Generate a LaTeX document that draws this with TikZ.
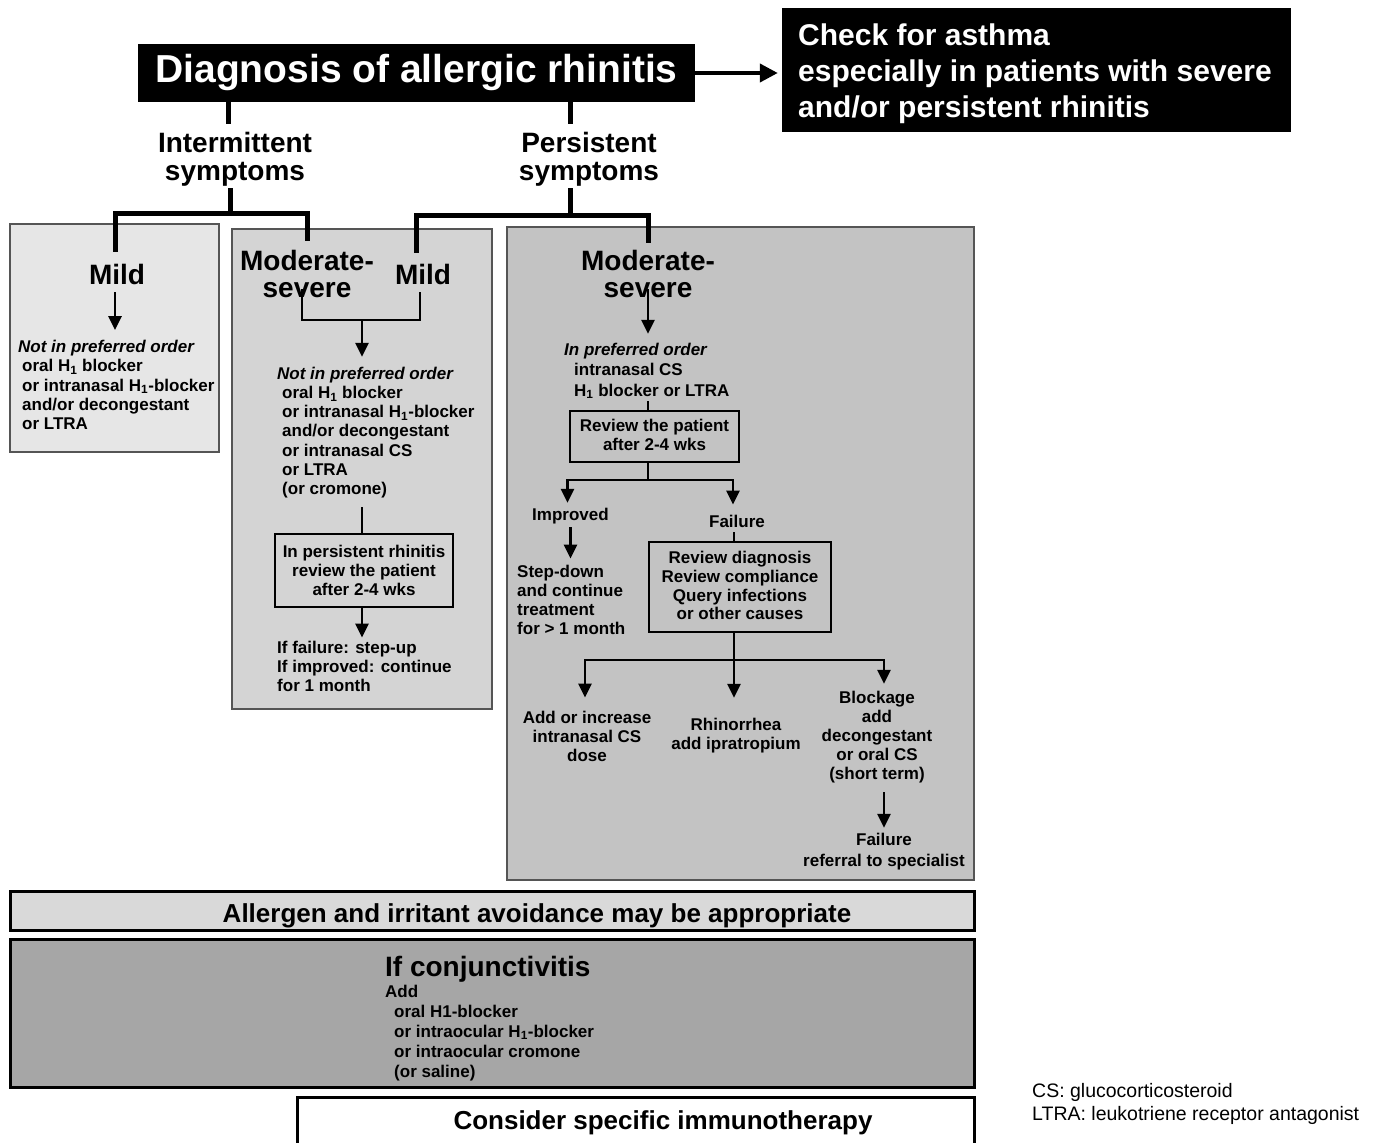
\documentclass[tikz,border=0pt]{standalone}
\usepackage{fontspec}
\setmainfont{Liberation Sans}
\usetikzlibrary{arrows.meta}
\definecolor{gA}{HTML}{E6E6E6}
\definecolor{gB}{HTML}{D4D4D4}
\definecolor{gC}{HTML}{C3C3C3}
\definecolor{gD}{HTML}{D9D9D9}
\definecolor{gE}{HTML}{A6A6A6}
\definecolor{edge}{HTML}{555555}
\begin{document}
\begin{tikzpicture}[x=1pt,y=-1pt,
  lbl/.style={font={\fontsize{28}{27}\selectfont\bfseries}, align=center, inner sep=0pt},
  body/.style={font={\fontsize{17}{19.2}\selectfont\bfseries}, inner sep=0pt},
  bodyb/.style={font={\fontsize{17}{19}\selectfont\bfseries}, inner sep=0pt},
  bigtxt/.style={font={\fontsize{26}{26}\selectfont\bfseries}, inner sep=0pt},
  bgbox/.style={draw=edge, line width=1.3pt, inner sep=0pt},
  inbox/.style={draw=black, line width=2pt, inner sep=0pt, align=center, font={\fontsize{17}{19}\selectfont\bfseries}},
  bar/.style={draw=black, line width=3pt, inner sep=0pt},
  thk/.style={line width=5pt},
  conn/.style={line width=2.8pt},
  arr/.style={conn, -{Triangle[length=14pt,width=13pt]}},
  bigarr/.style={line width=4pt, -{Triangle[length=18pt,width=18pt]}},
]
\fill[white] (0,0) rectangle (1377,1143);
\useasboundingbox (0,0) rectangle (1377,1143);

% background panels
\node[bgbox, fill=gA, minimum width=209pt, minimum height=228pt] (bg1) at (114.5,338) {};
\node[bgbox, fill=gB, minimum width=260pt, minimum height=480pt] (bg2) at (362,469) {};
\node[bgbox, fill=gC, minimum width=467pt, minimum height=653pt] (bg3) at (740.5,553.5) {};

% title and asthma box
\node[fill=black, text=white, minimum width=557pt, minimum height=58pt, inner sep=0pt,
      font={\fontsize{39}{39}\selectfont\bfseries}] (title) at (416.5,73) {\raisebox{-2pt}{Diagnosis of allergic rhinitis}};
\node[fill=black, minimum width=509pt, minimum height=124pt, inner sep=0pt] (asthma) at (1036.5,70) {};
\node[anchor=west, align=left, text=white, inner sep=0pt,
      font={\fontsize{30}{36}\selectfont\bfseries}] (asthmatxt) at (798,74)
  {Check for asthma\\especially in patients with severe\\and/or persistent rhinitis};
\draw[bigarr, shorten >=4pt] (title.east) -- (title.east -| asthma.west);

% symptom labels
\node[lbl, font={\fontsize{28}{28}\selectfont\bfseries}] (int) at (235,159) {Intermittent\\symptoms};
\node[lbl, font={\fontsize{28}{28}\selectfont\bfseries}] (per) at (589,159) {Persistent\\symptoms};
\coordinate (xa) at (228,0);
\coordinate (xb) at (570,0);
\coordinate (ib) at (230,213);
\coordinate (pb) at (570,215);
\draw[thk, shorten >=8pt] (title.south -| xa) -- (int.north -| xa);
\draw[thk, shorten >=8pt] (title.south -| xb) -- (per.north -| xb);

% severity labels
\node[lbl] (mild1) at (117,274) {Mild};
\node[lbl] (mod2) at (307,273.5) {Moderate-\\severe};
\node[lbl] (mild2) at (423,274) {Mild};
\node[lbl] (mod3) at (648,273.5) {Moderate-\\severe};

\draw[thk, shorten <=2pt] (int.south -| ib) -- (ib);
\draw[thk, shorten <=12pt, shorten >=9pt] ([xshift=-2pt]mild1.north) |- (ib) -| (mod2.north);
\draw[thk, shorten <=2pt] (per.south -| pb) -- (pb);
\draw[thk, shorten <=11pt, shorten >=7pt] ([xshift=-7pt]mild2.north) |- (pb) -| (mod3.north);

% box 1
\node[body, anchor=west, align=left] (txt1) at (18,385)
  {\textit{Not in preferred order}\\\hspace*{4pt}oral H\textsubscript{1} blocker\\\hspace*{4pt}or intranasal H\textsubscript{1}-blocker\\\hspace*{4pt}and/or decongestant\\\hspace*{4pt}or LTRA};
\draw[arr, shorten <=8pt, shorten >=10pt] ([xshift=-2pt]mild1.south) -- ([xshift=-2pt]mild1.south |- txt1.north);

% box 2
\coordinate (j2) at (362,320);
\node[body, anchor=west, align=left] (txt2) at (277,432.5)
  {\textit{Not in preferred order}\\\hspace*{5pt}oral H\textsubscript{1} blocker\\\hspace*{5pt}or intranasal H\textsubscript{1}-blocker\\\hspace*{5pt}and/or decongestant\\\hspace*{5pt}or intranasal CS\\\hspace*{5pt}or LTRA\\\hspace*{5pt}(or cromone)};
\node[inbox, minimum width=178pt, minimum height=73pt] (rev2) at (364,570.5)
  {In persistent rhinitis\\review the patient\\after 2-4 wks};
\node[bodyb, anchor=west, align=left] (ifail) at (277,666)
  {If failure: step-up\\If improved: continue\\for 1 month};
\draw[conn, shorten <=-8pt, shorten >=8pt] ([xshift=-5pt]mod2.south) |- (j2) -| ([xshift=-3pt]mild2.south);
\draw[arr, shorten >=10pt] (j2) -- (j2 |- txt2.north);
\draw[conn, shorten <=9pt] (j2 |- txt2.south) -- (j2 |- rev2.north);
\draw[arr, shorten >=3pt] (j2 |- rev2.south) -- (j2 |- ifail.north);

% box 3
\coordinate (x3) at (648,0);
\coordinate (b3) at (648,480);
\coordinate (x4) at (734,0);
\coordinate (b4) at (734,660);
\node[body, anchor=west, align=left, font={\fontsize{17}{20.5}\selectfont\bfseries}] (pref) at (564,371)
  {\textit{In preferred order}\\\hspace*{10pt}intranasal CS\\\hspace*{10pt}H\textsubscript{1} blocker or LTRA};
\node[inbox, minimum width=169pt, minimum height=51pt] (rev3) at (654.5,436.5)
  {\raisebox{3pt}{\shortstack{Review the patient\\after 2-4 wks}}};
\node[body] (impr) at (570.5,516) {Improved};
\node[body] (fail) at (737,521) {Failure};
\node[bodyb, anchor=west, align=left] (stepd) at (517,599.5)
  {Step-down\\and continue\\treatment\\for > 1 month};
\node[inbox, minimum width=182pt, minimum height=90pt] (rev4) at (740,587)
  {\raisebox{3pt}{\shortstack{Review diagnosis\\Review compliance\\Query infections\\or other causes}}};
\node[bodyb, align=center] (addinc) at (587,736) {Add or increase\\intranasal CS\\dose};
\node[bodyb, align=center] (rhino) at (736,735.5) {Rhinorrhea\\add ipratropium};
\node[bodyb, align=center] (block) at (877,737) {Blockage\\add\\decongestant\\or oral CS\\(short term)};
\node[body, align=center, font={\fontsize{17}{21}\selectfont\bfseries}] (fail2) at (884,851.5) {Failure\\referral to specialist};

\draw[arr, shorten <=-8pt, shorten >=9pt] (mod3.south) -- (mod3.south |- pref.north);
\draw[conn, shorten <=2pt] (x3 |- pref.south) -- (x3 |- rev3.north);
\draw[conn] (x3 |- rev3.south) -- (b3);
\draw[arr, shorten >=5pt] (b3) -| ([xshift=-3pt]impr.north);
\draw[arr, shorten >=10pt] (b3) -| ([xshift=-4pt]fail.north);
\draw[arr, shorten <=3pt, shorten >=6pt] (impr.south) -- (impr.south |- stepd.north);
\draw[conn, shorten <=5pt] (x4 |- fail.south) -- (x4 |- rev4.north);
\draw[conn] (x4 |- rev4.south) -- (b4);
\draw[arr, shorten >=13pt] (b4) -| ([xshift=-2pt]addinc.north);
\draw[arr, shorten >=20pt] (b4) -- (b4 |- rhino.north);
\draw[arr, shorten >=7pt] (b4) -| ([xshift=7pt]block.north);
\draw[arr, shorten <=9pt, shorten >=5pt] (fail2.north |- block.south) -- (fail2.north);

% bottom bars
\node[bar, fill=gD, minimum width=964pt, minimum height=39pt] (avoid) at (492,910.5) {};
\node[bigtxt] (avoidtxt) at (537,916) {Allergen and irritant avoidance may be appropriate};
\node[bar, fill=gE, minimum width=964pt, minimum height=148pt] (conj) at (492,1013) {};
\node[lbl, anchor=west] (conjt) at (385,969) {If conjunctivitis};
\node[body, anchor=west, align=left, font={\fontsize{17}{20}\selectfont\bfseries}] (conjb) at (385,1033)
  {Add\\\hspace*{9pt}oral H1-blocker\\\hspace*{9pt}or intraocular H\textsubscript{1}-blocker\\\hspace*{9pt}or intraocular cromone\\\hspace*{9pt}(or saline)};
\node[bar, fill=white, minimum width=677pt, minimum height=54pt] (immu) at (635.5,1124) {};
\node[bigtxt] (immut) at (663,1123) {Consider specific immunotherapy};

% legend
\node[anchor=west, align=left, inner sep=0pt, font={\fontsize{19.5}{23}\selectfont}] (legend) at (1032,1103.5)
  {CS: glucocorticosteroid\\LTRA: leukotriene receptor antagonist};
\end{tikzpicture}
\end{document}
